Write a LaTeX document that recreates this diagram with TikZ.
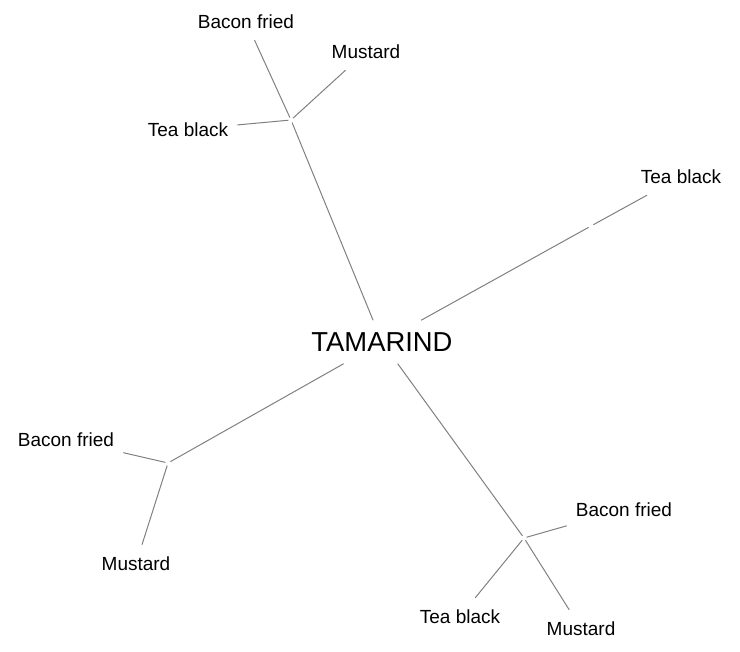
\documentclass[tikz,border=0pt]{standalone}
\usepackage{fontspec}
\setmainfont{Liberation Sans}
\tikzstyle{root}=[inner xsep=2pt,inner ysep=0pt,minimum height=43pt,font=\fontsize{27.4}{32}\selectfont]
\tikzstyle{leaf}=[inner xsep=9pt,inner ysep=0pt,minimum height=37pt,font=\fontsize{19}{22}\selectfont]
\tikzstyle{fork}=[circle,inner sep=0pt,minimum size=5pt]
\tikzstyle{branch} = [draw,gray,line width=1pt]

\begin{document}
\begin{tikzpicture}[x=1pt,y=-1pt]
    \useasboundingbox (0,0) rectangle (740,652);
    % The root in the middle
    \node[root] (T) at (382,342) {TAMARIND};

    % First we place the forks
    \foreach \pos/ \name in {{(291,120)/U},{(591,226)/R},{(168,463)/L},{(524,538)/D}}
        \node[fork] (\name) at \pos {};

    % Then the leaves
    \foreach \pos/ \name/ \txt in {{(246,21.5)/UB/Bacon fried},{(366,51.5)/UM/Mustard},{(188,129.5)/UT/Tea black},
        {(681,176.5)/RT/Tea black},{(66,439.5)/LB/Bacon fried},{(136,563.5)/LM/Mustard},
        {(624,509.5)/DB/Bacon fried},{(460,616.5)/DT/Tea black},{(581,628.5)/DM/Mustard}}
        \node[leaf] (\name) at \pos {\txt};

    % Connect everything with branches
    \foreach \source/ \dest in {T/U,T/R,T/L,T/D,U/UB,U/UM,U/UT,R/RT,L/LB,L/LM,D/DB,D/DT,D/DM}
        \path[branch] (\source) -- (\dest);
\end{tikzpicture}
\end{document}
